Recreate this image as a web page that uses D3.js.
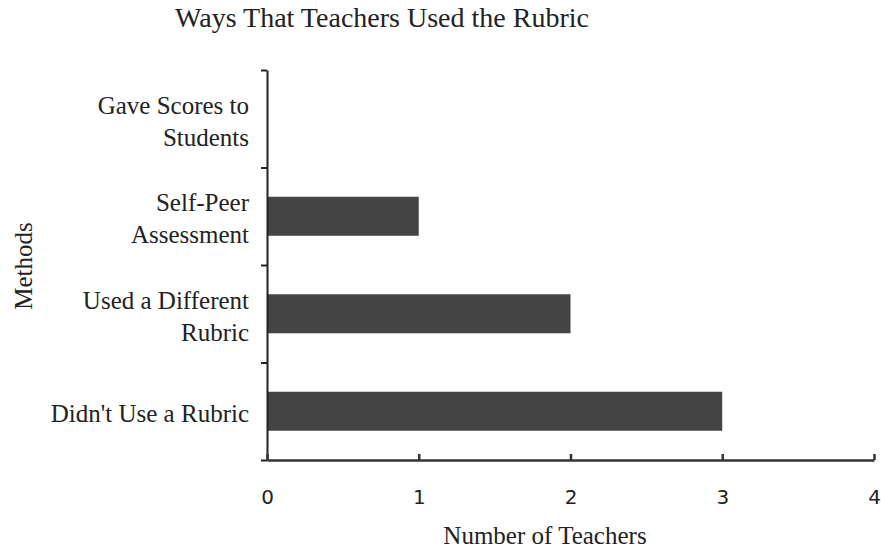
<!DOCTYPE html>
<html><head><meta charset="utf-8">
<script src="https://cdn.jsdelivr.net/npm/d3@7"></script>
<style>body{margin:0;background:#fff}svg{display:block}</style>
</head><body>
<svg id="c" width="881" height="550"></svg>
<script>
const categories = ["Gave Scores to|Students", "Self-Peer|Assessment", "Used a Different|Rubric", "Didn't Use a Rubric"];
const values = [0, 1, 2, 3];
const xTicks = [0, 1, 2, 3, 4];
const chartTitle = "Ways That Teachers Used the Rubric";
const xTitle = "Number of Teachers";
const yTitle = "Methods";

const svg = d3.select("#c");
const mLeft = 267, mRight = 874, mTop = 70, mBottom = 460;
const x = d3.scaleLinear().domain([0, 4]).range([mLeft, mRight]);
const y = d3.scaleBand().domain(categories).range([mTop, mBottom]).paddingInner(0.6).paddingOuter(0.3);
const yb = d3.scaleBand().domain(categories).range([mTop, mBottom]);
const yEdge = d3.scaleLinear().domain([0, categories.length]).range([mTop, mBottom]);

const serif = "'Liberation Serif','Times New Roman',serif";
const ink = "#222";

// bars
svg.selectAll("rect.bar").data(values).join("rect").attr("class","bar")
  .attr("x", x(0)).attr("y", (d,i)=>y(categories[i]))
  .attr("width", d=>x(d)-x(0)).attr("height", y.bandwidth())
  .attr("fill", "#444444");

// y axis: ticks at band boundaries
const ya = svg.append("g").attr("transform", `translate(${mLeft},0)`)
  .call(d3.axisLeft(yEdge).tickValues(d3.range(categories.length+1)).tickFormat("").tickSize(6).tickSizeOuter(0));
ya.selectAll("path,line").attr("stroke", ink).attr("stroke-width", 2);

// x axis: ticks point up
const xa = svg.append("g").attr("transform", `translate(0,${mBottom})`)
  .call(d3.axisBottom(x).tickValues(xTicks).tickFormat(d3.format("d")).tickSize(-6).tickSizeOuter(0).tickPadding(30));
xa.selectAll("path,line").attr("stroke", "#333").attr("stroke-width", 2.5);
xa.selectAll("text").attr("font-family","'DejaVu Sans',Verdana,sans-serif").attr("font-size",20).attr("fill",ink);

// y tick labels
categories.forEach((c)=>{
  const lines = c.split("|");
  const cy = yb(c) + yb.bandwidth()/2 + 2;
  const lh = 32;
  lines.forEach((t,j)=>{
    svg.append("text").attr("x", 249).attr("y", cy + (j - (lines.length-1)/2)*lh)
      .attr("dy","0.35em").attr("text-anchor","end")
      .attr("font-family",serif).attr("font-size",25).attr("fill",ink).text(t);
  });
});

// titles
svg.append("text").attr("x", 382).attr("y", 27).attr("text-anchor","middle")
  .attr("font-family",serif).attr("font-size",28).attr("fill",ink).text(chartTitle);
svg.append("text").attr("x", 545).attr("y", 544).attr("text-anchor","middle")
  .attr("font-family",serif).attr("font-size",25).attr("fill",ink).text(xTitle);
svg.append("text").attr("transform","translate(32,266) rotate(-90)").attr("text-anchor","middle")
  .attr("font-family",serif).attr("font-size",25).attr("fill",ink).text(yTitle);
</script>
</body></html>
